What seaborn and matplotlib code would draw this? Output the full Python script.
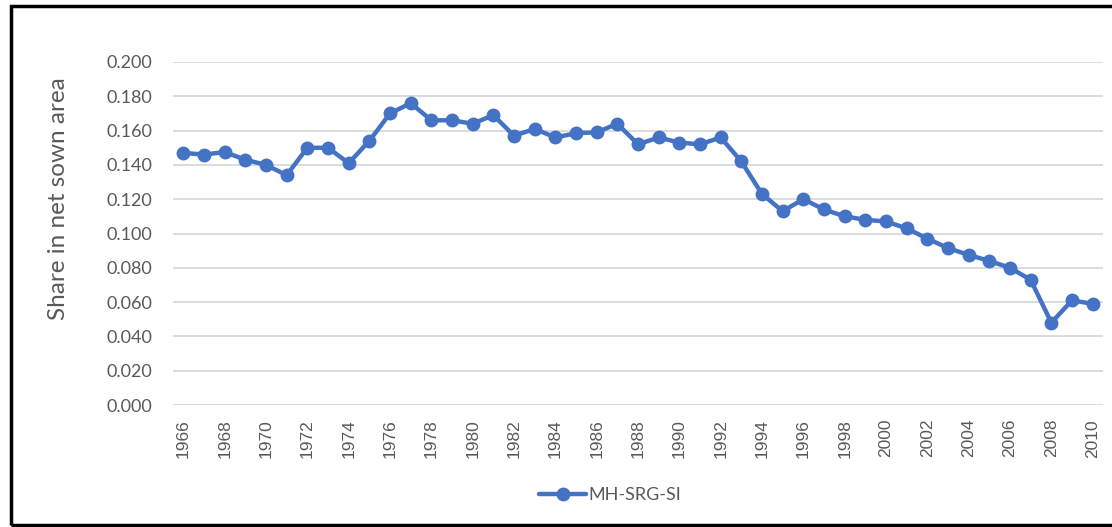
import matplotlib
matplotlib.use("Agg")
import matplotlib.pyplot as plt
from matplotlib.patches import Rectangle
import seaborn as sns
import pandas as pd

years = list(range(1966, 2011))
share = [0.147, 0.146, 0.1475, 0.143, 0.140, 0.134, 0.150, 0.150, 0.141, 0.154,
         0.170, 0.176, 0.166, 0.166, 0.164, 0.169, 0.157, 0.161, 0.156, 0.1585,
         0.159, 0.164, 0.152, 0.156, 0.153, 0.152, 0.156, 0.142, 0.123, 0.113,
         0.120, 0.114, 0.110, 0.108, 0.107, 0.103, 0.097, 0.0915, 0.0875, 0.084,
         0.080, 0.073, 0.048, 0.061, 0.059]
series_name = "MH-SRG-SI"
y_label = "Share in net sown area"
y_ticks = [0.0, 0.02, 0.04, 0.06, 0.08, 0.10, 0.12, 0.14, 0.16, 0.18, 0.20]

df = pd.DataFrame({"Year": years, "Share": share, "Series": series_name})

sns.set_theme(style="white")
plt.rcParams['font.family'] = ['Lato', 'DejaVu Sans']

fig = plt.figure(figsize=(11.12, 5.27), dpi=100)
ax = fig.add_axes([173/1112, 1-405/527, (1103-173)/1112, (405-62)/527])

blue = "#4472C4"
sns.lineplot(data=df, x="Year", y="Share", hue="Series", palette=[blue],
             marker="o", markersize=10, linewidth=3.2, markeredgewidth=0,
             ax=ax, zorder=3)

ax.set_xlim(years[0]-0.5, years[-1]+0.5)
ax.set_ylim(0, 0.2)
ax.set_yticks(y_ticks)
ax.set_yticklabels([f"{v:.3f}" for v in y_ticks], fontsize=13, color="#595959")
ax.set_xticks(years[::2])
ax.set_xticklabels([str(y) for y in years[::2]], rotation=90, fontsize=12.5,
                   color="#595959",
                   family=['Liberation Sans Narrow', 'Liberation Sans', 'DejaVu Sans'])
ax.tick_params(axis='y', length=0, pad=15)
ax.tick_params(axis='x', length=0, pad=10)
ax.grid(axis='y', color="#D9D9D9", linewidth=1.3)
ax.set_axisbelow(True)
for s in ax.spines.values():
    s.set_visible(False)
ax.set_xlabel("")
ax.set_ylabel(y_label, fontsize=17.5, color="#595959")
ax.yaxis.set_label_coords((69 - 173) / (1103 - 173), 0.603)

leg = ax.legend(loc="center", bbox_to_anchor=(610/1112, 1-495/527),
                bbox_transform=fig.transFigure, frameon=False, fontsize=13,
                handlelength=2.6, handletextpad=0.1, labelcolor="#595959")
for h in leg.legend_handles:
    h.set_linewidth(3.2)

fig.patches.append(Rectangle((11/1112, 2/527), 1.2, 1-8/527, transform=fig.transFigure,
                             fill=False, edgecolor="black", linewidth=2.5))

fig.savefig("out.png", dpi=100)
